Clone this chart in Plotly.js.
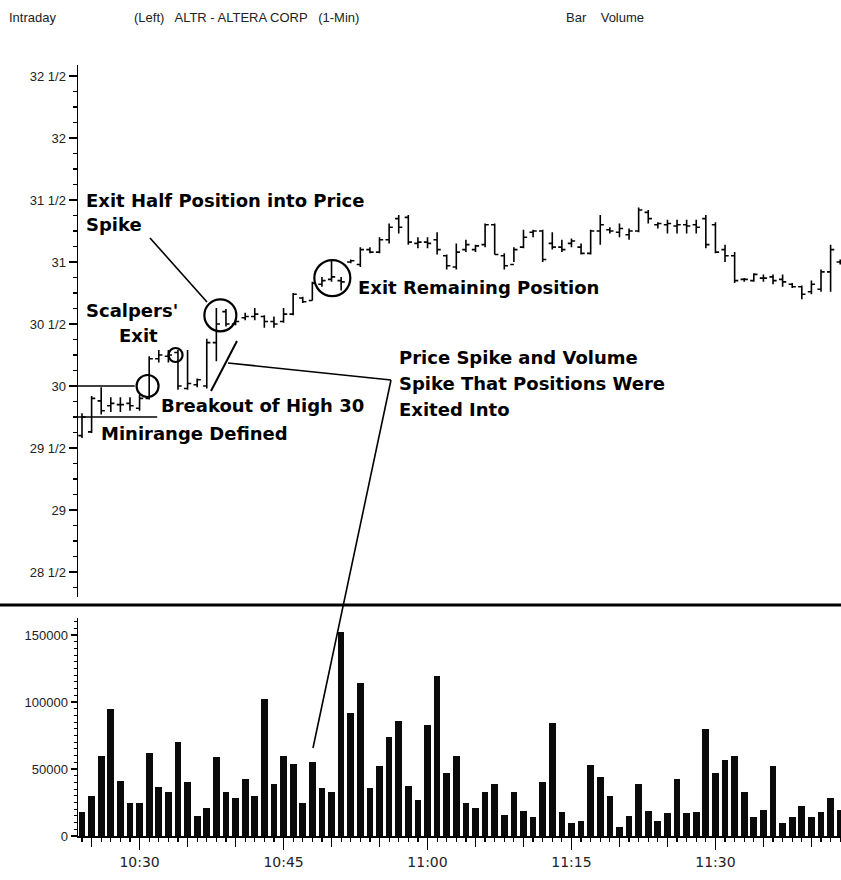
<!DOCTYPE html>
<html>
<head>
<meta charset="utf-8">
<script src="https://cdn.plot.ly/plotly-3.0.1.min.js"></script>
<style>html,body{margin:0;padding:0;background:#fff;}#chart{width:841px;height:880px;}</style>
</head>
<body>
<div id="chart"></div>
<script>
// ---- data ----
const times = ["10:24","10:25","10:26","10:27","10:28","10:29","10:30","10:31","10:32","10:33",
"10:34","10:35","10:36","10:37","10:38","10:39","10:40","10:41","10:42","10:43",
"10:44","10:45","10:46","10:47","10:48","10:49","10:50","10:51","10:52","10:53",
"10:54","10:55","10:56","10:57","10:58","10:59","11:00","11:01","11:02","11:03",
"11:04","11:05","11:06","11:07","11:08","11:09","11:10","11:11","11:12","11:13",
"11:14","11:15","11:16","11:17","11:18","11:19","11:20","11:21","11:22","11:23",
"11:24","11:25","11:26","11:27","11:28","11:29","11:30","11:31","11:32","11:33",
"11:34","11:35","11:36","11:37","11:38","11:39","11:40","11:41","11:42","11:43"];

const openP = [29.60,29.63,29.88,29.84,29.85,29.86,29.82,29.90,30.22,30.24,
30.27,29.98,30.01,30.00,30.35,30.60,30.50,30.55,30.56,30.56,
30.52,30.52,30.58,30.71,30.69,30.82,30.86,30.85,31.00,30.98,
31.10,31.08,31.18,31.35,31.36,31.15,31.16,31.18,31.05,30.96,
31.10,31.10,31.14,31.30,31.05,30.98,31.12,31.24,31.25,31.15,
31.12,31.15,31.12,31.07,31.25,31.26,31.24,31.22,31.25,31.40,
31.30,31.30,31.29,31.30,31.30,31.35,31.30,31.10,31.05,30.86,
30.85,30.87,30.88,30.86,30.82,30.80,30.76,30.78,30.92,31.00];
const highP = [29.78,29.92,29.99,29.91,29.91,29.91,29.93,30.24,30.29,30.29,
30.29,30.29,30.06,30.38,30.63,30.62,30.53,30.59,30.63,30.57,
30.56,30.63,30.75,30.72,30.84,30.88,31.02,30.88,31.02,31.12,
31.12,31.20,31.31,31.38,31.38,31.20,31.20,31.24,31.06,31.15,
31.18,31.14,31.31,31.31,31.07,31.12,31.26,31.26,31.26,31.24,
31.18,31.19,31.15,31.26,31.38,31.28,31.31,31.27,31.44,31.42,
31.32,31.34,31.34,31.34,31.34,31.38,31.32,31.14,31.08,30.87,
30.91,30.90,30.90,30.90,30.83,30.81,30.85,30.94,31.14,31.02];
const lowP = [29.58,29.62,29.77,29.79,29.79,29.80,29.80,29.89,30.19,30.19,
29.97,29.97,29.99,29.98,30.20,30.48,30.49,30.53,30.53,30.47,
30.47,30.51,30.57,30.67,30.69,30.80,30.84,30.77,30.99,30.96,
31.07,31.07,31.15,31.23,31.14,31.11,31.11,31.06,30.94,30.94,
31.08,31.08,31.12,31.06,30.94,31.00,31.11,31.20,31.00,31.10,
31.08,31.12,31.06,31.06,31.14,31.23,31.20,31.18,31.24,31.31,
31.27,31.23,31.23,31.23,31.23,31.11,31.07,31.00,30.83,30.84,
30.84,30.84,30.82,30.80,30.79,30.70,30.74,30.76,30.76,30.98];
const closeP = [29.75,29.90,29.80,29.86,29.85,29.84,29.90,30.22,30.25,30.25,
30.00,30.02,30.05,30.35,30.50,30.50,30.52,30.56,30.58,30.52,
30.50,30.58,30.74,30.68,30.83,30.85,30.88,30.84,31.01,31.10,
31.08,31.18,31.28,31.28,31.16,31.16,31.15,31.10,30.97,31.08,
31.14,31.13,31.30,31.06,30.97,31.10,31.20,31.25,31.02,31.12,
31.10,31.17,31.07,31.25,31.30,31.25,31.27,31.25,31.42,31.35,
31.31,31.31,31.30,31.29,31.28,31.14,31.08,31.05,30.85,30.86,
30.90,30.87,30.85,30.84,30.80,30.74,30.82,30.92,31.10,31.00];

const volume = [18000,29500,60000,94500,41000,25000,25000,62000,36500,32500,
70000,40000,15000,21000,59000,33000,28000,42500,29500,102000,
38500,60000,54000,25000,55000,36000,33000,152000,92000,114000,
36000,52000,74000,86000,37500,27000,83000,119500,47000,59500,
24500,21000,33000,39000,16000,32500,18500,14000,40500,84500,
18000,9500,11500,53000,44000,30000,7000,15000,38500,18500,
11000,17000,42500,17000,18000,80000,47000,57000,60000,33000,
14000,19500,52000,9500,14500,22500,14000,18000,28000,19500];

const priceTickVals = [28.5,29,29.5,30,30.5,31,31.5,32,32.5];
const priceTickText = ["28 1/2","29","29 1/2","30","30 1/2","31","31 1/2","32","32 1/2"];
const volTickVals = [0,50000,100000,150000];
const volTickText = ["0","50000","100000","150000"];

// ---- build ----
const day = "2024-01-01 ";
const xs = times.map(t => day + t);
const xRange = [day + "10:23:35", day + "11:43:05"];

const L = 78, T = 65, W = 763, H = 771;
const px = x => (x - L) / W;
const py = y => (T + H - y) / H;

const FONT = "Liberation Sans, Arial, sans-serif";
const BOLD = "DejaVu Sans, Liberation Sans, sans-serif";
const black = "#000";

const traces = [
  {
    type: "ohlc", x: xs, open: openP, high: highP, low: lowP, close: closeP,
    xaxis: "x2", yaxis: "y2", tickwidth: 0.38,
    increasing: {line: {color: black, width: 1.6}},
    decreasing: {line: {color: black, width: 1.6}},
    hoverinfo: "skip", showlegend: false
  },
  {
    type: "bar", x: xs, y: volume, xaxis: "x", yaxis: "y",
    width: 42000, marker: {color: "#0a0a0a", line: {width: 0}},
    hoverinfo: "skip", showlegend: false
  },
  {
    type: "scatter", x: [xs[0]], y: [0], xaxis: "x3", yaxis: "y",
    mode: "markers", marker: {opacity: 0}, hoverinfo: "skip", showlegend: false
  }
];

function circ(t, p, r) {
  return {type: "circle", xref: "x2", yref: "y2", xsizemode: "pixel", ysizemode: "pixel",
    xanchor: day + t, yanchor: p, x0: -r, x1: r, y0: -r, y1: r,
    line: {color: black, width: 2.2}};
}
function seg(x0, y0, x1, y1, w) {
  return {type: "line", xref: "paper", yref: "paper", x0: px(x0), y0: py(y0), x1: px(x1), y1: py(y1),
    line: {color: black, width: w || 1.6}};
}

const shapes = [
  {type: "line", xref: "paper", yref: "paper", x0: px(0), x1: px(841), y0: py(605), y1: py(605),
   line: {color: black, width: 3}},
  {type: "line", xref: "x2", yref: "y2", x0: xRange[0], x1: day + "10:29:30", y0: 30, y1: 30,
   line: {color: black, width: 1.6}},
  {type: "line", xref: "x2", yref: "y2", x0: xRange[0], x1: day + "10:31:50", y0: 29.75, y1: 29.75,
   line: {color: black, width: 1.6}},
  circ("10:30:50", 30.0, 11),
  circ("10:33:45", 30.25, 7),
  circ("10:38:25", 30.57, 16),
  circ("10:50:05", 30.87, 18),
  seg(150, 238, 207, 302),
  seg(211, 391, 237, 341, 2),
  seg(228, 363, 391, 380),
  seg(391, 380, 313, 748, 1.6)
];

function txt(text, x, y, opts) {
  return Object.assign({text: text, xref: "paper", yref: "paper", x: px(x), y: py(y),
    xanchor: "left", yanchor: "middle", showarrow: false, align: "left",
    font: {family: BOLD, size: 18, color: black, weight: "bold"}}, opts || {});
}
const hdrFont = {family: "Liberation Sans Narrow, Liberation Sans, Arial, sans-serif", size: 13, color: "#222"};

const annotations = [
  txt("Intraday", 7, 18, {font: hdrFont}),
  txt("(Left)   ALTR - ALTERA CORP   (1-Min)", 132, 18, {font: hdrFont}),
  txt("Bar    Volume", 564, 18, {font: hdrFont}),
  txt("Exit Half Position into Price", 84, 200),
  txt("Spike", 84, 224),
  txt("Scalpers'", 132, 310, {xanchor: "center"}),
  txt("Exit", 138, 335, {xanchor: "center"}),
  txt("Breakout of High 30", 159, 405),
  txt("Minirange Defined", 99, 433),
  txt("Exit Remaining Position", 356, 287),
  txt("Price Spike and Volume", 397, 357),
  txt("Spike That Positions Were", 397, 383),
  txt("Exited Into", 397, 409)
];

const layout = {
  width: 841, height: 880,
  margin: {l: L, r: 0, t: T, b: 44},
  paper_bgcolor: "#fff", plot_bgcolor: "#fff",
  font: {family: FONT, color: "#222"},
  showlegend: false, dragmode: false, bargap: 0,
  xaxis: {
    type: "date", range: xRange, anchor: "y", domain: [0, 1],
    rangeslider: {visible: false},
    showgrid: false, zeroline: false, showline: true, linecolor: black, linewidth: 1.5,
    ticks: "outside", tick0: day + "10:25", dtick: 300000, ticklen: 9, tickwidth: 1.3, tickcolor: black,
    showticklabels: false,
    minor: {ticks: "outside", dtick: 60000, tick0: day + "10:24", ticklen: 4, tickwidth: 1.2, tickcolor: black, showgrid: false}
  },
  xaxis3: {
    type: "date", range: xRange, overlaying: "x", anchor: "y",
    rangeslider: {visible: false},
    showgrid: false, zeroline: false, showline: false,
    ticks: "outside", tick0: day + "10:30", dtick: 900000, ticklen: 13, tickwidth: 1.5, tickcolor: black,
    tickformat: "%H:%M", tickfont: {family: "DejaVu Sans, sans-serif", size: 14, color: "#222"}
  },
  xaxis2: {
    type: "date", range: xRange, anchor: "y2", domain: [0, 1],
    rangeslider: {visible: false},
    showgrid: false, zeroline: false, showline: false, ticks: "", showticklabels: false
  },
  yaxis: {
    domain: [0, py(618)], range: [0, 162700], anchor: "x",
    showgrid: false, zeroline: false, showline: true, linecolor: black, linewidth: 1.5,
    tickmode: "array", tickvals: volTickVals, ticktext: volTickText,
    ticks: "outside", ticklen: 6, tickwidth: 1.3, tickcolor: black,
    tickfont: {family: FONT, size: 13, color: "#222"},
    minor: {ticks: "outside", dtick: 5000, tick0: 0, ticklen: 3, tickwidth: 1, tickcolor: black, showgrid: false}
  },
  yaxis2: {
    domain: [py(597), 1], range: [28.298, 32.589], anchor: "x2",
    showgrid: false, zeroline: false, showline: true, linecolor: black, linewidth: 1.5,
    tickmode: "array", tickvals: priceTickVals, ticktext: priceTickText,
    ticks: "outside", ticklen: 8, tickwidth: 1.3, tickcolor: black,
    tickfont: {family: FONT, size: 13, color: "#222"},
    minor: {ticks: "outside", dtick: 0.125, tick0: 28.5, ticklen: 4, tickwidth: 1.1, tickcolor: black, showgrid: false}
  },
  shapes: shapes,
  annotations: annotations
};

Plotly.newPlot("chart", traces, layout, {staticPlot: true, displayModeBar: false});
</script>
</body>
</html>
